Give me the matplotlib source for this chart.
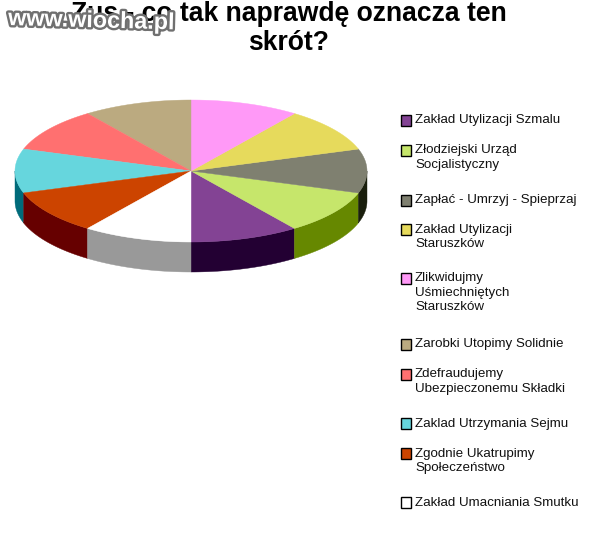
import numpy as np
import matplotlib
matplotlib.use('Agg')
import matplotlib.pyplot as plt
from matplotlib.patches import Polygon, Rectangle
import matplotlib.patheffects as pe

title_lines = ['Zus - co tak naprawdę oznacza ten', 'skrót?']
watermark = 'www.wiocha.pl'

labels = ['Zakład Utylizacji Szmalu', 'Złodziejski Urząd\nSocjalistyczny',
          'Zapłać - Umrzyj - Spieprzaj', 'Zakład Utylizacji\nStaruszków',
          'Zlikwidujmy\nUśmiechniętych\nStaruszków', 'Zarobki Utopimy Solidnie',
          'Zdefraudujemy\nUbezpieczonemu Składki', 'Zaklad Utrzymania Sejmu',
          'Zgodnie Ukatrupimy\nSpołeczeństwo', 'Zakład Umacniania Smutku']
values = [10, 10, 10, 10, 10, 10, 10, 10, 10, 10]
top_colors = ['#834394', '#C6E66B', '#7F8070', '#E6DA5C', '#FF99F7',
              '#BBAA80', '#FF7070', '#66D6DD', '#CC4400', '#FFFFFF']
side_colors = ['#230033', '#668800', '#1A1F0D', '#807A30', '#CC66CC',
               '#807040', '#CC3030', '#006B7A', '#660000', '#999999']
legend_y = [120, 150, 200, 229, 278, 344, 374, 423, 453, 502]

cx, cy, rx, ry, depth = 191, 171, 176, 71, 30

fig = plt.figure(figsize=(5.89, 5.45), dpi=100)
ax = fig.add_axes([0, 0, 1, 1])
ax.set_xlim(0, 589)
ax.set_ylim(545, 0)
ax.axis('off')

# slices run counter clockwise from the bottom of the pie
edges = -90 + 360 * np.cumsum([0] + values) / sum(values)


def arc(a0, a1, n=60):
    t = np.radians(np.linspace(a0, a1, n))
    return cx + rx * np.cos(t), cy - ry * np.sin(t)


# side walls first, only the front half of the ellipse shows
for i in range(len(values)):
    for lo, hi in [(-180, 0), (180, 360)]:
        a0 = max(edges[i], lo)
        a1 = min(edges[i + 1], hi)
        if a1 <= a0:
            continue
        x, y = arc(a0, a1)
        pts = np.r_[np.c_[x, y], np.c_[x[::-1], y[::-1] + depth]]
        ax.add_patch(Polygon(pts, closed=True, fc=side_colors[i], ec=side_colors[i], lw=0.3))

for i in range(len(values)):
    x, y = arc(edges[i], edges[i + 1])
    pts = np.r_[[[cx, cy]], np.c_[x, y]]
    ax.add_patch(Polygon(pts, closed=True, fc=top_colors[i], ec=top_colors[i], lw=0.3))

for label, col, y in zip(labels, top_colors, legend_y):
    ax.add_patch(Rectangle((400.5, y - 5.5), 10.5, 11, fc=col, ec='black', lw=1))
    ax.text(415, y - 5.5, label, fontsize=9.6, family='Liberation Sans', color='#111111',
            va='top', ha='left', linespacing=1.27)

ax.text(288.5, 21, title_lines[0], fontsize=19.1, family='Liberation Sans', weight='bold',
        ha='center', va='baseline', color='black')
ax.text(288.5, 49.5, title_lines[1], fontsize=19.1, family='Liberation Sans', weight='bold',
        ha='center', va='baseline', color='black')

ax.text(8, 25, watermark, fontsize=16.8, family='Liberation Sans', weight='bold',
        color='white', ha='left', va='baseline', rotation=-1.5, rotation_mode='anchor',
        path_effects=[pe.withStroke(linewidth=3.4, foreground='#707070')])

fig.savefig('out.png', dpi=100)
